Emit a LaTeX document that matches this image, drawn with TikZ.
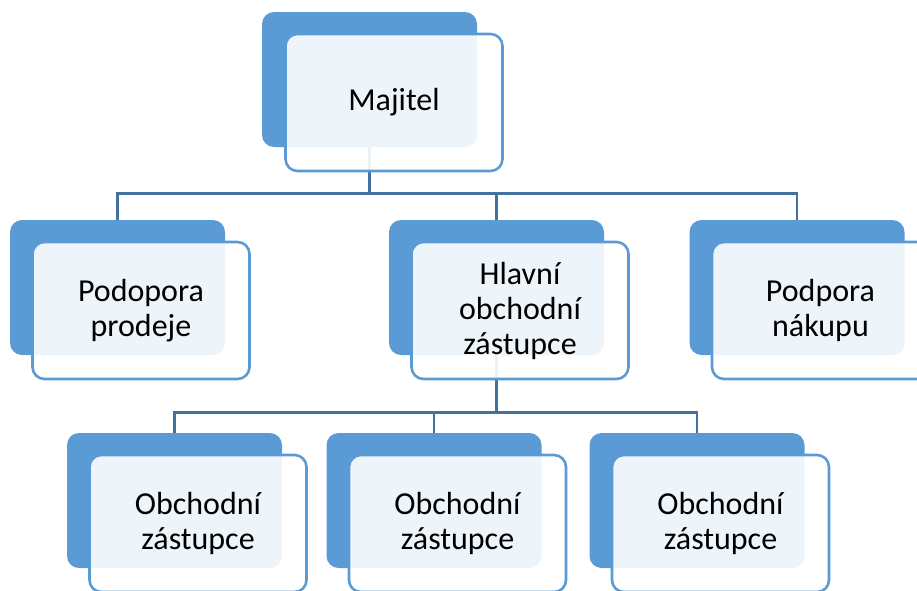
\documentclass[tikz,border=0pt]{standalone}
\usepackage{fontspec}
\setmainfont{Carlito}
\usepackage{xcolor}
\usetikzlibrary{positioning}

\definecolor{officeblue}{HTML}{5B9BD5}
\definecolor{linkblue}{HTML}{41719C}

\begin{document}
\begin{tikzpicture}[
    x=0.5pt, y=-0.5pt,
    backbox/.style={rectangle, fill=officeblue, rounded corners=6pt,
                    minimum width=107.5pt, minimum height=67.5pt, inner sep=0pt},
    frontbox/.style={rectangle, draw=officeblue, line width=1.3pt, fill=white,
                     fill opacity=0.9, text opacity=1, rounded corners=6pt,
                     minimum width=108.5pt, minimum height=68.5pt, align=center,
                     font=\fontsize{16}{17.5}\selectfont},
    conn/.style={draw=linkblue, line width=1.3pt}
]
\clip (0,0) rectangle (917,590);

% back blocks
\node[backbox] (majB) at (369.5,79.5) {};
\node[backbox] (ppB)  at (117.5,287.5) {};
\node[backbox] (hozB) at (496.5,287.5) {};
\node[backbox] (pnB)  at (797,287.5) {};
\node[backbox] (oz1B) at (174.5,500.5) {};
\node[backbox] (oz2B) at (434,500.5) {};
\node[backbox] (oz3B) at (697,500.5) {};

% connectors
\draw[conn] (majB.south) -- ++(0,46) coordinate (bar1);
\draw[conn] (bar1) -| (ppB.north);
\draw[conn] (bar1) -| (hozB.north);
\draw[conn] (bar1) -| (pnB.north);
\draw[conn] (hozB.south) -- ++(0,57) coordinate (bar2);
\draw[conn] (bar2) -| (oz1B.north);
\draw[conn] (bar2) -| (oz2B.north);
\draw[conn] (bar2) -| (oz3B.north);

% front blocks
\node[frontbox] (maj) at ([shift={(24.5,23)}]majB) {Majitel};
\node[frontbox] (pp)  at ([shift={(23.5,23)}]ppB)  {Podopora\\prodeje};
\node[frontbox] (hoz) at ([shift={(23.5,23)}]hozB) {Hlavní\\obchodní\\zástupce};
\node[frontbox] (pn)  at ([shift={(23.5,23)}]pnB)  {Podpora\\nákupu};
\node[frontbox] (oz1) at ([shift={(23.5,23)}]oz1B) {Obchodní\\zástupce};
\node[frontbox] (oz2) at ([shift={(23.5,23)}]oz2B) {Obchodní\\zástupce};
\node[frontbox] (oz3) at ([shift={(23.5,23)}]oz3B) {Obchodní\\zástupce};

\end{tikzpicture}
\end{document}
